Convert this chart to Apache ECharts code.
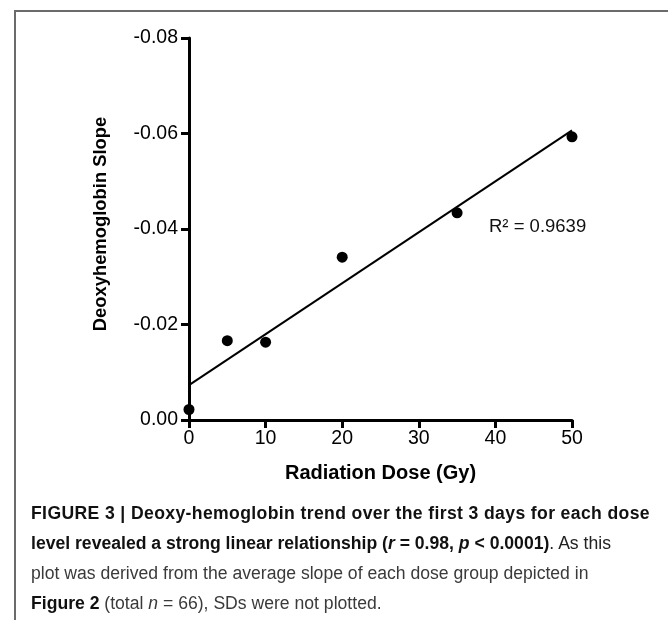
<!DOCTYPE html>
<html><head><meta charset="utf-8">
<script src="https://cdn.jsdelivr.net/npm/echarts@6/dist/echarts.min.js"></script>
<style>
html,body{margin:0;padding:0;background:#fff;}
#wrap{position:relative;width:668px;height:620px;overflow:hidden;}
#frame{position:absolute;left:14px;top:10px;width:680px;height:700px;border:2px solid #6b6b6b;box-sizing:border-box;}
#chart{position:absolute;left:0;top:0;width:668px;height:620px;}
#cap{position:absolute;left:31px;top:498px;width:636px;font-family:"Liberation Sans",Arial,sans-serif;font-size:17.6px;line-height:30px;color:#222;white-space:nowrap;}
#cap b{color:#111;}
</style></head>
<body><div id="wrap"><div id="frame"></div><div id="chart"></div>
<div id="cap">
<div style="letter-spacing:0.37px"><b>FIGURE 3 | Deoxy-hemoglobin trend over the first 3 days for each dose</b></div>
<div><b>level revealed a strong linear relationship (<i>r</i> = 0.98, <i>p</i> &lt; 0.0001)</b>. As this</div>
<div style="color:#3a3a3a">plot was derived from the average slope of each dose group depicted in</div>
<div style="color:#3a3a3a"><b style="color:#111">Figure 2</b> (total <i>n</i> = 66), SDs were not plotted.</div>
</div></div>
<script>
const doses = [0, 5, 10, 20, 35, 50];
const slopes = [-0.0022, -0.0166, -0.0163, -0.0341, -0.0434, -0.0593];
const xTicks = [0, 10, 20, 30, 40, 50];
const yTicks = [0, -0.02, -0.04, -0.06, -0.08];
const rSquaredLabel = 'R² = 0.9639';

// least-squares fit from the data
const n = doses.length;
const mx = doses.reduce((a,b)=>a+b,0)/n;
const my = slopes.reduce((a,b)=>a+b,0)/n;
let sxy=0,sxx=0;
for(let i=0;i<n;i++){sxy+=(doses[i]-mx)*(slopes[i]-my);sxx+=(doses[i]-mx)**2;}
const b1 = sxy/sxx, b0 = my-b1*mx;
const xMin = Math.min(...doses), xMax = Math.max(...doses);
const fitLine = [[xMin, b0+b1*xMin],[xMax, b0+b1*xMax]];

const chart = echarts.init(document.getElementById('chart'), null, {renderer:'canvas'});
const font = '"Liberation Sans", Arial, sans-serif';
chart.setOption({
  animation:false,
  backgroundColor:'transparent',
  grid:{left:189, right:96, top:38, bottom:200},
  xAxis:{
    type:'value', min:0, max:50, interval:10,
    name:'Radiation Dose (Gy)', nameLocation:'middle', nameGap:43,
    nameTextStyle:{fontFamily:font, fontSize:20, fontWeight:'bold', color:'#000'},
    axisLine:{show:true, onZero:false, lineStyle:{color:'#000', width:3}},
    axisTick:{show:true, length:8, lineStyle:{color:'#000', width:3}},
    axisLabel:{fontFamily:font, fontSize:19.5, color:'#000', margin:9,
      formatter:v=>String(xTicks.find(k=>Math.abs(k-v)<1e-9) ?? v)},
    splitLine:{show:false}
  },
  yAxis:{
    type:'value', min:-0.08, max:0, interval:0.02, inverse:true,
    name:'Deoxyhemoglobin Slope', nameLocation:'middle', nameGap:79,
    nameTextStyle:{fontFamily:font, fontSize:18.4, fontWeight:'bold', color:'#000', padding:[0,0,0,10]},
    axisLine:{show:true, onZero:false, lineStyle:{color:'#000', width:3}},
    axisTick:{show:true, length:8, lineStyle:{color:'#000', width:3}},
    axisLabel:{fontFamily:font, fontSize:19.5, color:'#000', margin:11,
      formatter:v=>{const t=yTicks.find(k=>Math.abs(k-v)<1e-9); return (t===undefined?v:t).toFixed(2).replace('-0.00','0.00');}},
    splitLine:{show:false}
  },
  series:[
    {type:'line', data:fitLine, symbol:'none', lineStyle:{color:'#000', width:2}, z:2, silent:true},
    {type:'scatter', data:doses.map((d,i)=>[d,slopes[i]]), symbol:'circle', symbolSize:11,
     itemStyle:{color:'#000', opacity:1}, z:3, clip:false}
  ],
  graphic:[{type:'text', left:489, top:217, style:{text:rSquaredLabel, font:'18.5px '+font, fill:'#111'}}]
});
</script></body></html>
